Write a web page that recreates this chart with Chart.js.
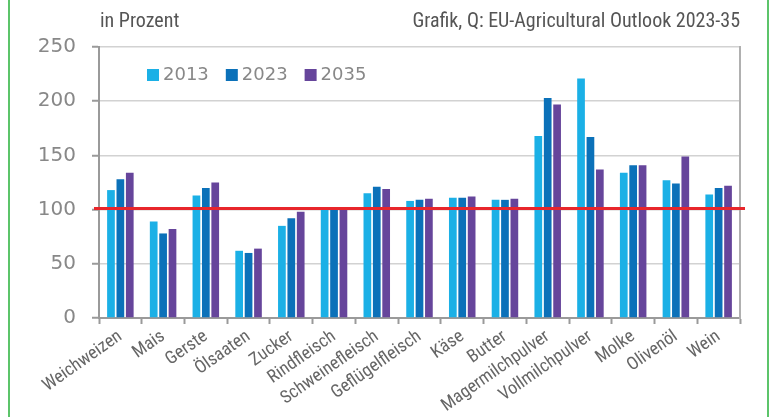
<!DOCTYPE html>
<html>
<head>
<meta charset="utf-8">
<script src="https://cdn.jsdelivr.net/npm/chart.js@4/dist/chart.umd.min.js"></script>
<style>
  html, body { margin: 0; padding: 0; background: #fff; }
  #wrap { width: 782px; height: 417px; position: relative; }
</style>
</head>
<body>
<div id="wrap"><canvas id="chart" width="782" height="417"></canvas></div>
<script>
const categories = ['Weichweizen', 'Mais', 'Gerste', 'Ölsaaten', 'Zucker', 'Rindfleisch', 'Schweinefleisch',
    'Geflügelfleisch', 'Käse', 'Butter', 'Magermilchpulver', 'Vollmilchpulver', 'Molke', 'Olivenöl', 'Wein'];
const years = ['2013', '2023', '2035'];
const values2013 = [118, 89, 113, 62, 85, 101, 115, 108, 111, 109, 168, 221, 134, 127, 114];
const values2023 = [128, 78, 120, 60, 92, 102, 121, 109, 111, 109, 203, 167, 141, 124, 120];
const values2035 = [134, 82, 125, 64, 98, 101, 119, 110, 112, 110, 197, 137, 141, 149, 122];
const yTicks = [0, 50, 100, 150, 200, 250];
const referenceLine = 101;

const colors = ['#1bb0e6', '#0b71b9', '#66459b'];
const narrow = "'Liberation Sans Narrow', 'Roboto Condensed', Roboto, sans-serif";

// Rahmen, Texte, Legende und rote Linie
const extras = {
    id: 'extras',
    beforeDraw(chart) {
        const ctx = chart.ctx;
        ctx.save();
        ctx.strokeStyle = '#5cc46a';
        ctx.lineWidth = 2;
        ctx.beginPath();
        ctx.moveTo(9, 0); ctx.lineTo(9, chart.height);
        ctx.moveTo(768, 0); ctx.lineTo(768, chart.height);
        ctx.stroke();

        ctx.fillStyle = '#555';
        ctx.font = '20px ' + narrow;
        ctx.textBaseline = 'middle';
        ctx.textAlign = 'left';
        ctx.fillText('in Prozent', chart.chartArea.left + 1, 22);
        ctx.textAlign = 'right';
        ctx.fillText('Grafik, Q: EU-Agricultural Outlook 2023-35', chart.chartArea.right, 22);
        ctx.restore();
    },
    afterDatasetsDraw(chart) {
        const ctx = chart.ctx;
        const area = chart.chartArea;
        const y = chart.scales.y.getPixelForValue(referenceLine);
        ctx.save();
        ctx.strokeStyle = '#e8262b';
        ctx.lineWidth = 3;
        ctx.beginPath();
        ctx.moveTo(area.left - 5, y);
        ctx.lineTo(area.right + 5, y);
        ctx.stroke();

        // Legende
        let x = area.left + 48;
        const top = area.top + 22;
        ctx.font = '18px "DejaVu Sans"';
        ctx.textBaseline = 'middle';
        ctx.textAlign = 'left';
        chart.data.datasets.forEach((ds) => {
            ctx.fillStyle = ds.backgroundColor;
            ctx.fillRect(x, top, 12, 12);
            ctx.fillStyle = '#888';
            ctx.fillText(ds.label, x + 16, top + 6);
            x += 16 + ctx.measureText(ds.label).width + 17;
        });
        ctx.restore();
    }
};

const ctx = document.getElementById('chart').getContext('2d');

const chart = new Chart(ctx, {
    type: 'bar',
    data: {
        labels: categories,
        datasets: [
            { label: years[0], data: values2013, backgroundColor: colors[0] },
            { label: years[1], data: values2023, backgroundColor: colors[1] },
            { label: years[2], data: values2035, backgroundColor: colors[2] },
        ],
    },
    options: {
        responsive: false,
        animation: false,
        layout: { padding: { top: 47, right: 42, left: 0, bottom: 0 } },
        datasets: {
            bar: { categoryPercentage: 0.66, barPercentage: 0.82 }
        },
        plugins: {
            legend: { display: false },
            tooltip: { enabled: false },
        },
        scales: {
            x: {
                offset: true,
                grid: {
                    display: true,
                    offset: true,
                    drawOnChartArea: false,
                    tickLength: 6,
                    tickColor: '#9a9a9a',
                    tickWidth: 2,
                },
                border: { color: '#9a9a9a', width: 2 },
                ticks: {
                    autoSkip: false,
                    minRotation: 35,
                    maxRotation: 35,
                    padding: 2,
                    color: '#666',
                    font: { family: narrow, size: 18 },
                },
                afterFit(axis) { axis.height = 99; },
            },
            y: {
                min: 0,
                max: 250,
                afterBuildTicks(axis) { axis.ticks = yTicks.map((v) => ({ value: v })); },
                grid: {
                    color: '#d2d2d2',
                    lineWidth: 1.5,
                    tickLength: 7,
                    tickColor: '#9a9a9a',
                    tickWidth: 2,
                },
                border: { color: '#9a9a9a', width: 2 },
                ticks: {
                    padding: 16,
                    color: '#888',
                    font: { family: 'DejaVu Sans', size: 20 },
                },
                afterFit(axis) { axis.width = 99; },
            },
            y2: {
                position: 'right',
                min: 0,
                max: 250,
                grid: { drawOnChartArea: false, drawTicks: false },
                border: { color: '#b0b0b0', width: 2 },
                ticks: { display: false },
                afterFit(axis) { axis.width = 0; },
            },
        },
    },
    plugins: [extras],
});
</script>
</body>
</html>
